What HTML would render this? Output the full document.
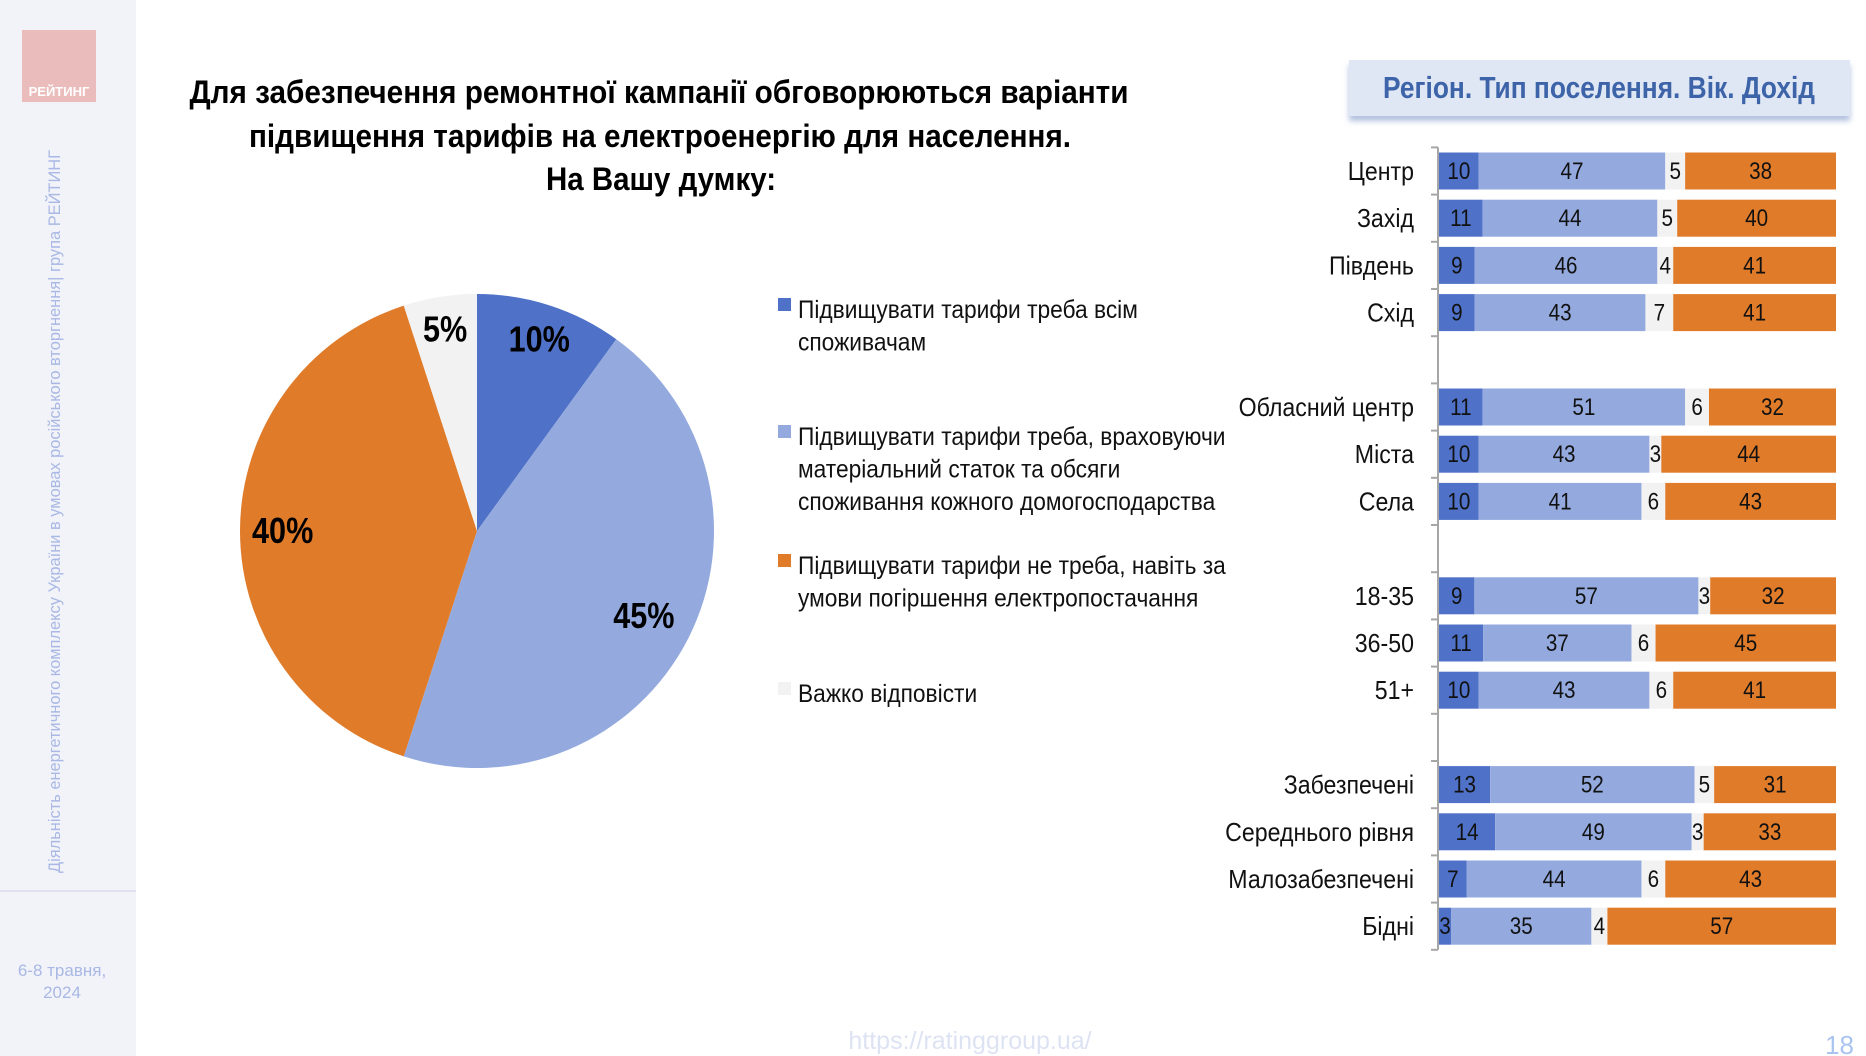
<!DOCTYPE html>
<html><head><meta charset="utf-8">
<style>
html,body{margin:0;padding:0;background:#fff;}
svg{display:block;font-family:"Liberation Sans Narrow","Liberation Sans","Noto Sans CJK SC",sans-serif;}
</style></head>
<body>
<svg id="s" width="1866" height="1056" viewBox="0 0 1866 1056" xmlns="http://www.w3.org/2000/svg">
<defs>
<filter id="sh" x="-5%" y="-20%" width="110%" height="160%"><feDropShadow dx="0" dy="5" stdDeviation="3" flood-color="#9fb0d6" flood-opacity="0.8"/></filter>
</defs>
<rect x="0" y="0" width="136" height="1056" fill="#f1f3f9"/>
<line x1="0" y1="891" x2="136" y2="891" stroke="#dde2ee" stroke-width="2"/>
<g>
<rect x="22" y="30" width="74" height="72" fill="#ebbcbc"/>
<text x="59" y="96" text-anchor="middle" font-family="Liberation Sans" font-weight="bold" font-size="13" fill="#fff">РЕЙТИНГ</text>
</g>
<text transform="translate(60,873) rotate(-90)" font-size="17" fill="#a9b8e4" textLength="723" lengthAdjust="spacingAndGlyphs">Діяльність енергетичного комплексу України в умовах російського вторгнення| група РЕЙТИНГ</text>
<text x="62" y="976" text-anchor="middle" font-family="Liberation Sans" font-size="17" fill="#a9b8e4">6-8 травня,</text>
<text x="62" y="998" text-anchor="middle" font-family="Liberation Sans" font-size="17" fill="#a9b8e4">2024</text>

<g font-weight="bold" font-size="32" fill="#000" text-anchor="middle">
<text x="659" y="103" textLength="939" lengthAdjust="spacingAndGlyphs">Для забезпечення ремонтної кампанії обговорюються варіанти</text>
<text x="660" y="147" textLength="822" lengthAdjust="spacingAndGlyphs">підвищення тарифів на електроенергію для населення.</text>
<text x="661" y="190" textLength="230" lengthAdjust="spacingAndGlyphs">На Вашу думку:</text>
</g>

<g id="pie"></g>
<g id="legend"></g>

<g>
<rect x="1349" y="60" width="501" height="56" fill="#dfe6f4" filter="url(#sh)"/>
<text x="1599" y="98" text-anchor="middle" font-weight="bold" font-size="31" fill="#3d64a8" textLength="432" lengthAdjust="spacingAndGlyphs">Регіон. Тип поселення. Вік. Дохід</text>
</g>
<g id="bars"></g>

<text x="970" y="1049" text-anchor="middle" font-family="Liberation Sans" font-size="25" fill="#dde3f3">https://ratinggroup.ua/</text>
<text x="1854" y="1054" text-anchor="end" font-family="Liberation Sans" font-size="26" fill="#a9c4f0">18</text>
</svg>
<script>
const pieLabels = ["10%","45%","40%","5%"];
const pieValues = [10,45,40,5];
const legendItems = [["Підвищувати тарифи треба всім","споживачам"],["Підвищувати тарифи треба, враховуючи","матеріальний статок та обсяги","споживання кожного домогосподарства"],["Підвищувати тарифи не треба, навіть за","умови погіршення електропостачання"],["Важко відповісти"]];
const categories = ["Центр","Захід","Південь","Схід","Обласний центр","Міста","Села","18-35","36-50","51+","Забезпечені","Середнього рівня","Малозабезпечені","Бідні"];
const rowSlots = [0,1,2,3,5,6,7,9,10,11,13,14,15,16];
const sAll = [10,11,9,9,11,10,10,9,11,10,13,14,7,3];
const sIncome = [47,44,46,43,51,43,41,57,37,43,52,49,44,35];
const sHard = [5,5,4,7,6,3,6,3,6,6,5,3,6,4];
const sNo = [38,40,41,41,32,44,43,32,45,41,31,33,43,57];

const NS="http://www.w3.org/2000/svg";
const pieColors=["#4f72c8","#94aade","#e07b2a","#f2f2f2"];
const barColors=["#4f72c8","#94aade","#f2f2f2","#e07b2a"];
function mk(tag,attrs,parent){const e=document.createElementNS(NS,tag);for(const k in attrs)e.setAttribute(k,attrs[k]);parent.appendChild(e);return e;}

// pie
const pie=document.getElementById('pie');
const cx=477,cy=531,R=237;
const tot=pieValues.reduce((a,b)=>a+b,0);
let acc=0;
const labelR=[0.85,0.79,0.82,0.86];
pieValues.forEach((v,i)=>{
  const a0=acc/tot*2*Math.PI, a1=(acc+v)/tot*2*Math.PI; acc+=v;
  const p=(a)=>[cx+R*Math.sin(a),cy-R*Math.cos(a)];
  const [x0,y0]=p(a0),[x1,y1]=p(a1);
  const path=mk('path',{d:`M${cx},${cy} L${x0},${y0} A${R},${R} 0 ${a1-a0>Math.PI?1:0} 1 ${x1},${y1} Z`,fill:pieColors[i]},pie);
  
  
  const am=(a0+a1)/2, lr=R*labelR[i];
  const tx=cx+lr*Math.sin(am), ty=cy-lr*Math.cos(am)+12;
  const t=mk('text',{transform:`translate(${tx},${ty}) scale(0.85,1)`,'text-anchor':'middle','font-weight':'bold','font-size':'36',fill:'#000'},pie);
  t.textContent=pieLabels[i];
  
  
});

// legend
const lg=document.getElementById('legend');
const legY=[310,437,566,694];
legendItems.forEach((lines,i)=>{
  const sq=mk('rect',{x:778,y:legY[i]-12,width:13,height:13,fill:pieColors[i]},lg);
  
  
  lines.forEach((ln,j)=>{
    const t=mk('text',{transform:`translate(798,${legY[i]+8+j*32.5}) scale(0.91,1)`,'font-size':'25',fill:'#111'},lg);
    t.textContent=ln;
    
    
  });
});

// bars
const bars=document.getElementById('bars');
const x0=1439, W=397, top0=171, step=47.2, bh=37;
const ax=mk('line',{x1:x0-1,y1:top0-step/2,x2:x0-1,y2:top0+16*step+step/2,stroke:'#a6a6a6','stroke-width':2},bars);


for(let k=0;k<=17;k++){
  const tk=mk('line',{x1:x0-8,y1:top0-step/2+k*step,x2:x0-1,y2:top0-step/2+k*step,stroke:'#a6a6a6','stroke-width':2},bars);
  
  
}
const series=[sAll,sIncome,sHard,sNo];
categories.forEach((c,i)=>{
  const yc=top0+rowSlots[i]*step;
  const rowTot=series.reduce((a,s)=>a+s[i],0);
  const xs=v=>v/rowTot*W;
  const lab=mk('text',{transform:`translate(1414,${yc+9}) scale(0.89,1)`,'text-anchor':'end','font-size':'26',fill:'#111'},bars);
  lab.textContent=c;
  
  
  let cum=0;
  series.forEach((s,j)=>{
    const v=s[i];
    const r=mk('rect',{x:x0+xs(cum),y:yc-bh/2,width:xs(v),height:bh,fill:barColors[j]},bars);
    
    
    const t=mk('text',{transform:`translate(${x0+xs(cum+v/2)},${yc+8}) scale(0.86,1)`,'text-anchor':'middle','font-size':'24',fill:'#111'},bars);
    t.textContent=v;
    
    
    cum+=v;
  });
});
</script>
</body></html>
